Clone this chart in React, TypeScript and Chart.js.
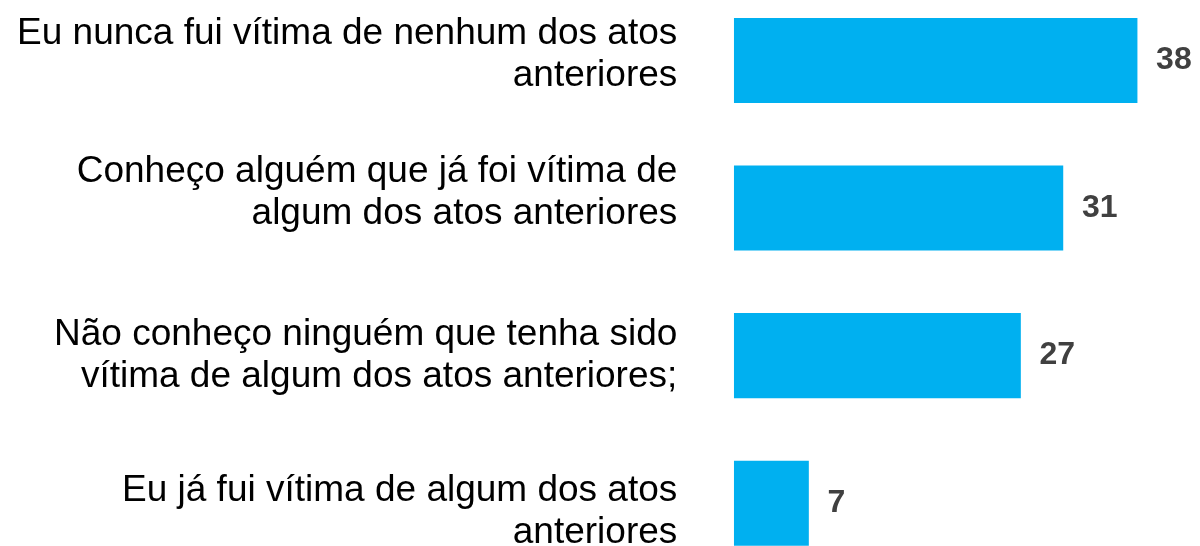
import { useEffect, useRef } from "react";
import Chart from "chart.js/auto";

// ---- data ----
const categories: string[][] = [
  ["Eu nunca fui vítima de nenhum dos atos", "anteriores"],
  ["Conheço alguém que já foi vítima de", "algum dos atos anteriores"],
  ["Não conheço ninguém que tenha sido", "vítima de algum dos atos anteriores;"],
  ["Eu já fui vítima de algum dos atos", "anteriores"],
];
const values: number[] = [38, 31, 27, 7];
const valueLabels: string[] = ["38", "31", "27", "7"];

// ---- style / layout (not data) ----
const BAR_COLOR = "#00B0F0";
const LABEL_COLOR = "#000000";
const VALUE_COLOR = "#404040";
const FONT_FAMILY = "'Liberation Sans', Arial, Helvetica, sans-serif";
const LABEL_FONT_SIZE = 37;
const LABEL_LINE_HEIGHT = 42;
const LABEL_NUDGE = [-6, -15, 0, 9];
const VALUE_FONT_SIZE = 32;

export default function App() {
  const canvasRef = useRef<HTMLCanvasElement | null>(null);

  useEffect(() => {
    const canvas = canvasRef.current;
    if (!canvas) return;

    const labelPlugin = {
      id: "customLabels",
      afterDatasetsDraw(chart: any) {
        const ctx = chart.ctx as CanvasRenderingContext2D;
        const yScale = chart.scales.y;
        const xScale = chart.scales.x;
        const area = chart.chartArea;
        ctx.save();
        // category labels
        ctx.font = `${LABEL_FONT_SIZE}px ${FONT_FAMILY}`;
        ctx.fillStyle = LABEL_COLOR;
        ctx.textAlign = "right";
        ctx.textBaseline = "middle";
        categories.forEach((lines, i) => {
          const cy = yScale.getPixelForValue(i) + (LABEL_NUDGE[i] || 0);
          const y0 = cy - ((lines.length - 1) * LABEL_LINE_HEIGHT) / 2;
          lines.forEach((line, j) => {
            ctx.fillText(line, area.left - 57, y0 + j * LABEL_LINE_HEIGHT);
          });
        });
        // value labels
        ctx.font = `bold ${VALUE_FONT_SIZE}px ${FONT_FAMILY}`;
        ctx.fillStyle = VALUE_COLOR;
        ctx.textAlign = "left";
        values.forEach((v, i) => {
          const x = xScale.getPixelForValue(v) + 19;
          const y = yScale.getPixelForValue(i);
          ctx.fillText(valueLabels[i], x, y);
        });
        ctx.restore();
      },
    };

    const chart = new Chart(canvas, {
      type: "bar",
      data: {
        labels: categories.map((c) => c.join(" ")),
        datasets: [
          {
            data: values,
            backgroundColor: BAR_COLOR,
            borderWidth: 0,
            barThickness: 84.4,
            clip: false as any,
          },
        ],
      },
      options: {
        indexAxis: "y",
        animation: false,
        responsive: false,
        maintainAspectRatio: false,
        devicePixelRatio: 1,
        layout: {
          padding: { left: 734.3, right: 41.7, top: 60.5, bottom: 42.8 },
        },
        plugins: {
          legend: { display: false },
          tooltip: { enabled: false },
        },
        scales: {
          x: {
            display: false,
            min: 0,
            max: 40,
            grid: { display: false },
          },
          y: {
            display: false,
            offset: false,
            grid: { display: false },
          },
        },
      },
      plugins: [labelPlugin],
    });

    return () => {
      chart.destroy();
    };
  }, []);

  return (
    <div style={{ position: "fixed", left: 0, top: 0, width: 1200, height: 546, background: "#ffffff" }}>
      <canvas ref={canvasRef} width={1200} height={546} style={{ width: 1200, height: 546, display: "block" }} />
    </div>
  );
}
